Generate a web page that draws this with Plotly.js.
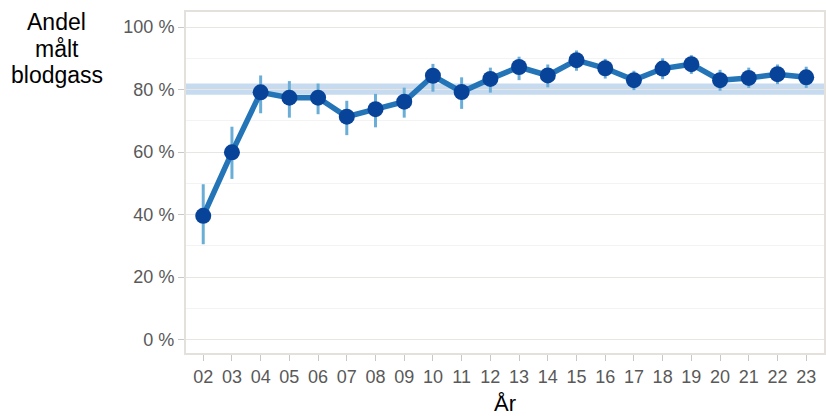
<!DOCTYPE html>
<html>
<head>
<meta charset="utf-8">
<script src="https://cdn.plot.ly/plotly-3.0.1.min.js"></script>
<style>html,body{margin:0;padding:0;background:#fff;}#chart{width:826px;height:416px;}</style>
</head>
<body>
<div id="chart"></div>
<script>
var years = ["02","03","04","05","06","07","08","09","10","11","12","13","14","15","16","17","18","19","20","21","22","23"];
var share = [39.6,59.9,79.1,77.4,77.4,71.3,73.7,76.1,84.4,79.2,83.4,87.2,84.5,89.4,86.8,83.0,86.7,88.1,83.0,83.7,84.9,83.9];
var upper = [49.7,68.1,84.5,82.7,81.9,76.4,78.6,80.6,88.2,83.9,87.0,90.5,88.0,92.5,89.8,86.0,90.0,91.0,86.3,87.0,88.0,87.3];
var lower = [30.5,51.4,72.4,71.0,72.1,65.4,67.9,71.0,79.3,73.8,79.0,83.0,80.7,86.0,83.5,79.8,83.3,85.0,79.6,80.5,81.7,80.5];
var targetLow = 78.3, targetHigh = 81.9;
var yTicks = [0,20,40,60,80,100];
var yTickText = ["0 %","20 %","40 %","60 %","80 %","100 %"];
var yTitleLines = ["Andel","målt","blodgass"];

var errPlus = upper.map(function(u,i){return u-share[i];});
var errMinus = lower.map(function(l,i){return share[i]-l;});

var traces = [
  {
    x: years, y: share, type: 'scatter', mode: 'lines',
    line: {color: '#2474b8', width: 5.5},
    error_y: {type: 'data', symmetric: false, array: errPlus, arrayminus: errMinus,
      color: '#6aaed8', thickness: 3, width: 0},
    hoverinfo: 'skip', showlegend: false
  },
  {
    x: years, y: share, type: 'scatter', mode: 'markers',
    marker: {color: '#08439a', size: 16},
    showlegend: false
  }
];

var annotations = yTitleLines.map(function(t, i){
  return {
    text: t, xref: 'paper', yref: 'paper',
    x: -0.2022, y: 1.0, xanchor: 'center', yanchor: 'top', yshift: 5 - i*26.5,
    showarrow: false, align: 'center',
    font: {size: 23, color: '#000'}
  };
});

var layout = {
  width: 826, height: 416,
  margin: {l: 186, r: 2, t: 12, b: 63},
  paper_bgcolor: '#fff', plot_bgcolor: '#fff',
  font: {family: 'Liberation Sans, Arial, sans-serif', size: 18, color: '#595959'},
  xaxis: {
    type: 'category', range: [-0.6, 21.62],
    showgrid: false, zeroline: false,
    showline: true, mirror: true, linecolor: '#e4e0db', linewidth: 2,
    ticks: 'outside', ticklen: 6, tickcolor: '#c8c8c8', tickwidth: 1,
    tickfont: {size: 18, color: '#595959'},
    title: {text: 'År', font: {size: 22, color: '#000'}, standoff: 11}
  },
  yaxis: {
    range: [-4.3, 104.8],
    tickvals: yTicks, ticktext: yTickText,
    showgrid: true, gridcolor: '#e9e6e2', gridwidth: 1, zeroline: false,
    showline: true, mirror: true, linecolor: '#e4e0db', linewidth: 2,
    ticks: 'outside', ticklen: 6, tickcolor: '#c8c8c8', tickwidth: 1,
    tickfont: {size: 18, color: '#595959'},
    minor: {dtick: 10, tick0: 0, showgrid: true, gridcolor: '#f3f3f3', gridwidth: 1, ticks: ''}
  },
  shapes: [{
    type: 'rect', xref: 'paper', yref: 'y', x0: 0, x1: 1, y0: targetLow, y1: targetHigh,
    fillcolor: '#c6dbef', line: {width: 0}, layer: 'between'
  }],
  annotations: annotations
};

Plotly.newPlot('chart', traces, layout, {displayModeBar: false, staticPlot: true});
</script>
</body>
</html>
